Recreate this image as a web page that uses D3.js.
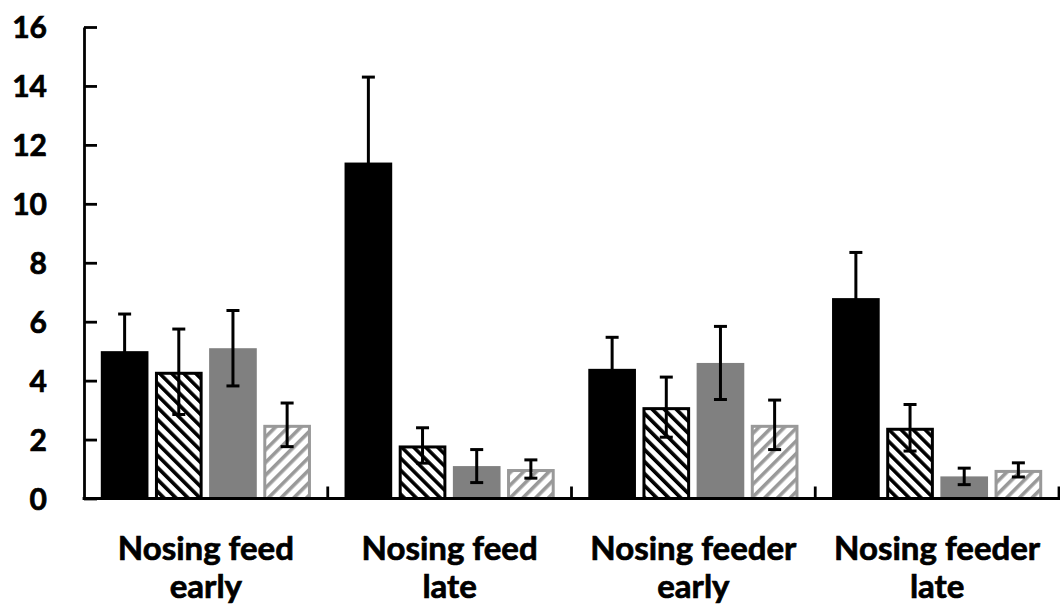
<!DOCTYPE html>
<html>
<head>
<meta charset="utf-8">
<script src="https://cdn.jsdelivr.net/npm/d3@7"></script>
<style>
  body { margin: 0; background: #fff; }
  text { font-family: Lato, "Open Sans", sans-serif; font-weight: bold; fill: #000; stroke: #000; stroke-width: 0.7px; }
</style>
</head>
<body>
<div class="chart"></div>
<script>
// valores
const categories = ['Nosing feed\nearly', 'Nosing feed\nlate', 'Nosing feeder\nearly', 'Nosing feeder\nlate'];
const seriesNames = ['Serie 1', 'Serie 2', 'Serie 3', 'Serie 4'];
const means = [
  [5.0, 4.3, 5.1, 2.5],
  [11.4, 1.8, 1.1, 1.0],
  [4.4, 3.1, 4.6, 2.5],
  [6.8, 2.4, 0.75, 0.97]
];
const errors = [
  [1.26, 1.45, 1.28, 0.74],
  [2.9, 0.6, 0.56, 0.31],
  [1.07, 1.02, 1.24, 0.84],
  [1.55, 0.79, 0.28, 0.24]
];
const yTicks = [0, 2, 4, 6, 8, 10, 12, 14, 16];

const WIDTH = 1060;
const HEIGHT = 609;
const AXIS_X = 84;
const Y0 = 498.5;
const Y16 = 27;

const svg = d3.select('.chart').append('svg')
  .attr('width', WIDTH)
  .attr('height', HEIGHT);

// patrones de rayas
const defs = svg.append('defs');
const blackHatch = defs.append('pattern')
  .attr('id', 'hatchBlack')
  .attr('patternUnits', 'userSpaceOnUse')
  .attr('width', 8.5).attr('height', 8.5)
  .attr('patternTransform', 'rotate(-45)');
blackHatch.append('rect').attr('width', 8.5).attr('height', 8.5).attr('fill', '#fff');
blackHatch.append('rect').attr('width', 3.6).attr('height', 8.5).attr('fill', '#000');

const grayHatch = defs.append('pattern')
  .attr('id', 'hatchGray')
  .attr('patternUnits', 'userSpaceOnUse')
  .attr('width', 9).attr('height', 9)
  .attr('patternTransform', 'rotate(45)');
grayHatch.append('rect').attr('width', 9).attr('height', 9).attr('fill', '#fff');
grayHatch.append('rect').attr('width', 3.6).attr('height', 9).attr('fill', '#999');

const styles = [
  { fill: '#000', stroke: 'none', sw: 0 },
  { fill: 'url(#hatchBlack)', stroke: '#000', sw: 3 },
  { fill: '#808080', stroke: 'none', sw: 0 },
  { fill: 'url(#hatchGray)', stroke: '#999', sw: 3 }
];

const x0 = d3.scaleBand().domain(categories).range([AXIS_X, 1059]).padding(0);
const x1 = d3.scaleBand().domain(seriesNames).range([0, x0.bandwidth()])
  .paddingInner(0.12).paddingOuter(0.31);
const y = d3.scaleLinear().domain([0, 16]).range([Y0, Y16]);

const rows = [];
categories.forEach((c, i) => {
  seriesNames.forEach((s, j) => {
    rows.push({ cat: c, ser: s, j: j, v: means[i][j], e: errors[i][j] });
  });
});

// barras
const bars = svg.append('g');
bars.selectAll('rect').data(rows).enter().append('rect')
  .attr('x', d => x0(d.cat) + x1(d.ser) + styles[d.j].sw / 2)
  .attr('y', d => y(d.v) + styles[d.j].sw / 2)
  .attr('width', d => x1.bandwidth() - styles[d.j].sw)
  .attr('height', d => Y0 - y(d.v) - styles[d.j].sw / 2)
  .attr('fill', d => styles[d.j].fill)
  .attr('stroke', d => styles[d.j].stroke)
  .attr('stroke-width', d => styles[d.j].sw);

// barras de error
const errG = svg.append('g').attr('stroke', '#000').attr('stroke-width', 3);
rows.forEach(d => {
  const cx = x0(d.cat) + x1(d.ser) + x1.bandwidth() / 2;
  const top = y(d.v + d.e), bot = y(d.v - d.e);
  errG.append('line').attr('x1', cx).attr('x2', cx).attr('y1', top).attr('y2', bot);
  errG.append('line').attr('x1', cx - 6.5).attr('x2', cx + 6.5).attr('y1', top).attr('y2', top);
  errG.append('line').attr('x1', cx - 6.5).attr('x2', cx + 6.5).attr('y1', bot).attr('y2', bot);
});

// eje y
const axisLeft = d3.axisLeft(y).tickValues(yTicks).tickSizeInner(-13).tickSizeOuter(0).tickPadding(37);
const yAxis = svg.append('g')
  .attr('transform', `translate(${AXIS_X}, 0)`)
  .call(axisLeft);
yAxis.selectAll('path, line').attr('stroke', '#000').attr('stroke-width', 2.8);
yAxis.selectAll('text')
  .style('font-size', '30px')
  .style('font-family', 'Lato, sans-serif')
  .style('font-weight', 'bold')
  .attr('dy', '0.36em');

// eje x
svg.append('line')
  .attr('x1', AXIS_X - 1.4).attr('x2', WIDTH)
  .attr('y1', Y0).attr('y2', Y0)
  .attr('stroke', '#000').attr('stroke-width', 2.8);
svg.append('g').selectAll('line').data(categories).enter().append('line')
  .attr('x1', d => x0(d) + x0.bandwidth()).attr('x2', d => x0(d) + x0.bandwidth())
  .attr('y1', Y0).attr('y2', Y0 - 12)
  .attr('stroke', '#000').attr('stroke-width', 2.8);

// etiquetas de categoria
const labels = svg.append('g').selectAll('text').data(categories).enter().append('text')
  .attr('text-anchor', 'middle')
  .style('font-size', '33px')
  .attr('x', d => x0(d) + x0.bandwidth() / 2)
  .attr('y', 560);
labels.selectAll('tspan').data(d => d.split('\n')).enter().append('tspan')
  .attr('x', function () { return d3.select(this.parentNode).attr('x'); })
  .attr('dy', (d, i) => i === 0 ? 0 : 38)
  .text(d => d);
</script>
</body>
</html>
